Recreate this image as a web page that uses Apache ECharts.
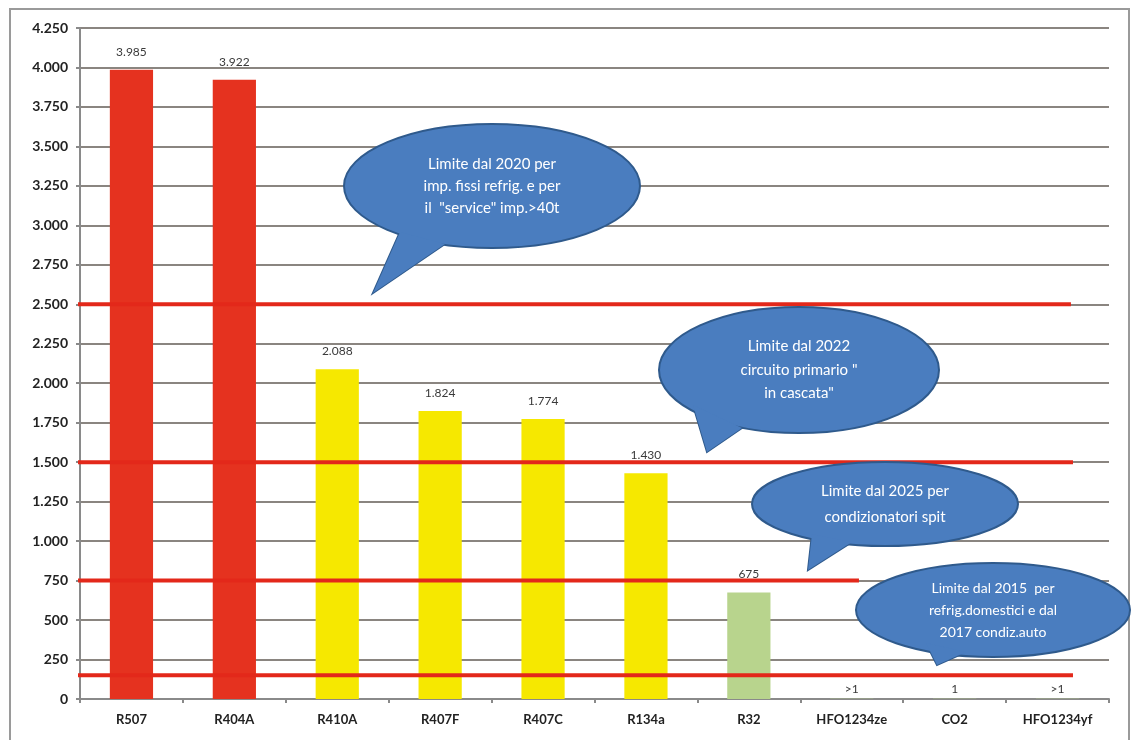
<!DOCTYPE html>
<html>
<head>
<meta charset="utf-8">
<script src="https://cdn.jsdelivr.net/npm/echarts@6/dist/echarts.min.js"></script>
<style>
  html, body { margin: 0; padding: 0; background: #fff; }
  #chart { width: 1136px; height: 740px; }
</style>
</head>
<body>
<div id="chart"></div>
<script>
// refrigerant GWP values
const categories = ['R507', 'R404A', 'R410A', 'R407F', 'R407C', 'R134a', 'R32', 'HFO1234ze', 'CO2', 'HFO1234yf']
const gwpValues = [3985, 3922, 2088, 1824, 1774, 1430, 675, 1, 1, 1]
const valueLabels = ['3.985', '3.922', '2.088', '1.824', '1.774', '1.430', '675', '>1', '1', '>1']
const barColors = ['#e5321f', '#e5321f', '#f6e800', '#f6e800', '#f6e800', '#f6e800', '#b8d48d', '#b8d48d', '#b8d48d', '#b8d48d']

// limit lines (value, end position in category units)
const limitValues = [2500, 1500, 750, 150]
const limitEnds = [9.63, 9.65, 7.57, 9.65]

const callouts = [
  { text: 'Limite dal 2020 per\nimp. fissi refrig. e per\nil  "service" imp.>40t', cx: 492, cy: 186, rx: 148, ry: 62, tail: [[400, 232], [373, 293], [445, 244]], lh: 22, fs: 15 },
  { text: 'Limite dal 2022\ncircuito primario "\nin cascata"', cx: 799, cy: 370, rx: 140, ry: 63, tail: [[693, 405], [707, 452], [742, 428]], lh: 23.5, fs: 15 },
  { text: 'Limite dal 2025 per\ncondizionatori spit', cx: 885, cy: 504, rx: 133, ry: 42, tail: [[812, 534], [808, 570], [852, 542]], lh: 26, fs: 15 },
  { text: 'Limite dal 2015  per\nrefrig.domestici e dal\n2017 condiz.auto', cx: 993, cy: 610, rx: 137, ry: 47, tail: [[926, 643], [937, 665], [966, 652]], lh: 22, fs: 14 }
]

const fmt = v => v >= 1000 ? Math.floor(v / 1000) + '.' + String(v % 1000).padStart(3, '0') : String(v)

const chart = echarts.init(document.getElementById('chart'))

const graphics = [
  { type: 'rect', shape: { x: 10, y: 9, width: 1119, height: 740 }, style: { fill: 'none', stroke: '#9a9a9a', lineWidth: 2 }, z: 0, silent: true }
]
callouts.forEach(c => {
  graphics.push({ type: 'polygon', shape: { points: c.tail }, style: { fill: '#4a7dbf', stroke: '#2f5a8c', lineWidth: 2 }, z: 100 })
  graphics.push({ type: 'ellipse', shape: { cx: c.cx, cy: c.cy, rx: c.rx, ry: c.ry }, style: { fill: '#4a7dbf', stroke: '#2f5a8c', lineWidth: 2 }, z: 101 })
  graphics.push({ type: 'polygon', shape: { points: c.tail }, style: { fill: '#4a7dbf' }, z: 102 })
  graphics.push({
    type: 'text', x: c.cx, y: c.cy, z: 103,
    style: { text: c.text, fill: '#fff', font: c.fs + 'px "Lato", "Open Sans", sans-serif', align: 'center', verticalAlign: 'middle', lineHeight: c.lh }
  })
})

const limitSeries = limitValues.map((v, i) => ({
  type: 'line',
  xAxisIndex: 1,
  data: [[-0.03, v], [limitEnds[i], v]],
  symbol: 'none',
  lineStyle: { color: '#e3281a', width: 4 },
  silent: true,
  z: 5
}))

chart.setOption({
  animation: false,
  grid: { left: 80, right: 27, top: 28, bottom: 41, containLabel: false },
  xAxis: [
    {
      type: 'category',
      data: categories,
      axisLine: { lineStyle: { color: '#8a8a8a', width: 2 } },
      axisTick: { show: true, length: 4, lineStyle: { color: '#8a8a8a', width: 2 } },
      axisLabel: { color: '#222', fontSize: 13, fontWeight: 'bold', fontFamily: 'Lato, "Open Sans", sans-serif', margin: 14, interval: 0 }
    },
    { type: 'value', min: 0, max: 10, show: false }
  ],
  yAxis: {
    type: 'value',
    min: 0,
    max: 4250,
    interval: 250,
    axisLine: { show: true, lineStyle: { color: '#8a8a8a', width: 2 } },
    axisTick: { show: true, length: 4, lineStyle: { color: '#8a8a8a', width: 2 } },
    splitLine: { lineStyle: { color: '#8a8580', width: 2 } },
    axisLabel: { color: '#222', fontSize: 14, fontWeight: 'bold', fontFamily: 'Lato, "Open Sans", sans-serif', margin: 12, formatter: fmt }
  },
  series: [
    {
      type: 'bar',
      barWidth: '42%',
      data: gwpValues.map((v, i) => ({
        value: v,
        itemStyle: { color: barColors[i] },
        label: { distance: v < 10 ? 4 : 12 }
      })),
      label: {
        show: true,
        position: 'top',
        color: '#3a3a3a',
        fontSize: 12,
        fontFamily: 'Lato, "Open Sans", sans-serif',
        formatter: p => valueLabels[p.dataIndex]
      },
      z: 2
    },
    ...limitSeries
  ],
  graphic: graphics
})
</script>
</body>
</html>
